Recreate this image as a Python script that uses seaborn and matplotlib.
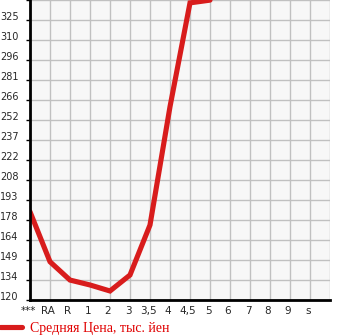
import numpy as np
import pandas as pd
import seaborn as sns
import matplotlib.pyplot as plt
import matplotlib.transforms as mtransforms

# grades along the x axis and the average price (thousand yen) for each
grades = ['***', 'RA', 'R', '1', '2', '3', '3,5', '4', '4,5', '5',
          '6', '7', '8', '9', 's']
prices = [184.6, 148.0, 134.6, 131.0, 126.6, 138.3, 174.9, 261.5, 337.5, 339.5]

ytick_labels = ['120', '134', '149', '164', '178', '193', '208', '222',
                '237', '252', '266', '281', '296', '310', '325']
ymin, ystep = 120, 14.64

df = pd.DataFrame({'pos': np.arange(len(prices)), 'price': prices})

sns.set_style('white')
fig = plt.figure(figsize=(3.45, 3.35), dpi=100)
ax = fig.add_axes([30 / 345, 35 / 335, 300 / 345, 300 / 335])
ax.set_facecolor('#f7f7f7')

sns.lineplot(data=df, x='pos', y='price', ax=ax, color='#d81c1c',
             linewidth=3.7, solid_joinstyle='miter', label='Средняя Цена, тыс. йен',
             legend=False)

ax.set_xlim(0, 15)
ax.set_ylim(ymin, ymin + 15 * ystep)

ax.set_xticks(np.arange(16))
ax.set_xticklabels(grades + [''])
yt = [ymin + k * ystep for k in range(15)]
ax.set_yticks(yt + [ymin + 15 * ystep])
ax.set_yticklabels(ytick_labels + [''])

ax.grid(True, color='#c0c0c0', linewidth=1)
ax.set_axisbelow(True)
for s in ['top', 'right']:
    ax.spines[s].set_visible(False)
for s in ['left', 'bottom']:
    ax.spines[s].set_color('black')
    ax.spines[s].set_linewidth(2)

ax.tick_params(axis='y', length=3, width=1, color='black', pad=18.6,
               labelsize=7, left=True)
for t in ax.get_yticklabels():
    t.set_horizontalalignment('left')
    t.set_verticalalignment('baseline')
ax.tick_params(axis='x', length=0, pad=4.5, labelsize=7.5)
shift = mtransforms.ScaledTranslation(-2 / 100, 0, fig.dpi_scale_trans)
for t in ax.get_xticklabels():
    t.set_transform(t.get_transform() + shift)

ax.set_xlabel('')
ax.set_ylabel('')

leg = fig.legend(loc='lower left', bbox_to_anchor=(0, 0), frameon=False,
                 borderpad=0, borderaxespad=0,
                 handlelength=1.6, handletextpad=0.55, labelcolor='#e00000',
                 prop={'family': 'Liberation Serif', 'size': 10})
for h in leg.get_lines():
    h.set_linewidth(3.7)

fig.savefig('out.png', dpi=100)
